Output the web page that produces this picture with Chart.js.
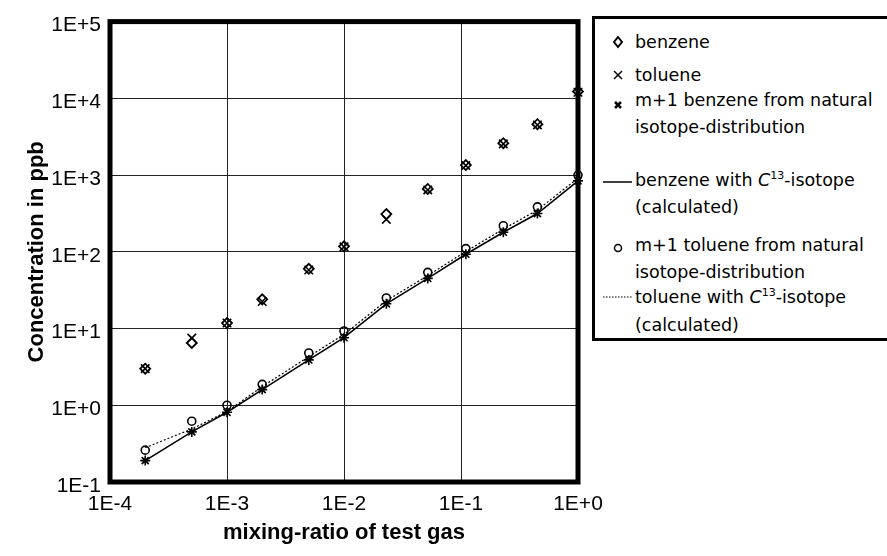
<!DOCTYPE html>
<html>
<head>
<meta charset="utf-8">
<script src="https://cdn.jsdelivr.net/npm/chart.js@4.4.1/dist/chart.umd.min.js"></script>
<style>
  body { margin: 0; background: #fff; }
  #wrap { position: relative; width: 887px; height: 556px; overflow: hidden; }
  #legend { position: absolute; left: 592px; top: 16px; width: 310px; height: 319px;
            border: 3px solid #000; background: #fff; font-family: "DejaVu Sans"; font-size: 17.5px; color: #000; }
  .t { position: absolute; left: 40px; white-space: nowrap; line-height: 20px; }
  .t sup { font-size: 11px; line-height: 0; }
  .s { position: absolute; left: 8px; }
</style>
</head>
<body>
<div id="wrap">
  <canvas id="c" width="887" height="556"></canvas>
  <div id="legend">
    <svg class="s" style="top:13px" width="30" height="20"><path d="M15 5 L19 10 L15 15 L11 10 Z" fill="none" stroke="#000" stroke-width="2"/></svg>
    <div class="t" style="top:13px">benzene</div>
    <svg class="s" style="top:46px" width="30" height="20"><path d="M11 6 L19 14 M19 6 L11 14" stroke="#000" stroke-width="1.5"/></svg>
    <div class="t" style="top:46px">toluene</div>
    <svg class="s" style="top:76px" width="30" height="20"><path d="M12 7 L18 13 M18 7 L12 13" stroke="#000" stroke-width="2.5"/></svg>
    <div class="t" style="top:71px">m+1 benzene from natural</div>
    <div class="t" style="top:98px">isotope-distribution</div>
    <svg class="s" style="top:153px" width="30" height="20"><path d="M0 10 L29 10" stroke="#000" stroke-width="1.5"/></svg>
    <div class="t" style="top:151px">benzene with <i>C</i><sup>13</sup>-isotope</div>
    <div class="t" style="top:178px">(calculated)</div>
    <svg class="s" style="top:219px" width="30" height="20"><circle cx="15" cy="10" r="3.5" fill="none" stroke="#000" stroke-width="1.5"/></svg>
    <div class="t" style="top:216px">m+1 toluene from natural</div>
    <div class="t" style="top:243px">isotope-distribution</div>
    <svg class="s" style="top:268px" width="30" height="20"><path d="M0 10 L29 10" stroke="#000" stroke-width="1" stroke-dasharray="1.5 1.5"/></svg>
    <div class="t" style="top:268px">toluene with <i>C</i><sup>13</sup>-isotope</div>
    <div class="t" style="top:296px">(calculated)</div>
  </div>
</div>
<script>
// mixing ratio of test gas
const mixingRatio = [2e-4, 5e-4, 1e-3, 2e-3, 5e-3, 1e-2, 2.3e-2, 5.2e-2, 0.11, 0.23, 0.45, 1.0];

// measured concentrations (ppb)
const benzene = [3.0, 6.5, 11.8, 24, 60, 118, 310, 660, 1350, 2600, 4600, 12300];
const toluene = [3.0, 7.5, 11.8, 22.5, 58, 116, 265, 640, 1330, 2550, 4500, 12000];
const m1Benzene = [0.19, 0.45, 0.81, 1.6, 3.9, 7.6, 21, 45, 93, 180, 315, 840];
const m1Toluene = [0.26, 0.62, 1.0, 1.87, 4.8, 9.3, 25, 54, 110, 219, 385, 1000];

// calculated C13 curves
const benzeneCalc = [0.19, 0.45, 0.81, 1.6, 3.9, 7.6, 21, 45, 93, 180, 315, 840];
const tolueneCalc = [0.28, 0.49, 0.83, 1.75, 4.3, 8.4, 23, 49, 101, 198, 350, 910];

const xTicks = [1e-4, 1e-3, 1e-2, 1e-1, 1];
const yTicks = [1e-1, 1, 1e1, 1e2, 1e3, 1e4, 1e5];

function pts(arr) {
  return mixingRatio.map((x, i) => ({ x: x, y: arr[i] }));
}
function fmt(v) {
  const e = Math.round(Math.log10(v));
  return '1E' + (e >= 0 ? '+' : '') + e;
}

// thick black frame round the plot area
const frame = {
  id: 'frame',
  beforeDatasetsDraw(chart) {
    const a = chart.chartArea, ctx = chart.ctx;
    ctx.save();
    ctx.strokeStyle = '#000';
    ctx.lineWidth = 5;
    ctx.strokeRect(a.left, a.top, a.right - a.left, a.bottom - a.top);
    ctx.restore();
  }
};

const tickFont = { family: '"Liberation Sans", Arial', size: 21 };
const titleFont = { family: '"Liberation Sans", Arial', size: 22, weight: 'bold' };

new Chart(document.getElementById('c'), {
  type: 'scatter',
  data: {
    datasets: [
      { label: 'benzene with C13-isotope (calculated)', data: pts(benzeneCalc), showLine: true,
        borderColor: '#000', borderWidth: 1.6, pointRadius: 0, clip: false },
      { label: 'toluene with C13-isotope (calculated)', data: pts(tolueneCalc), showLine: true,
        borderColor: '#000', borderWidth: 1.2, borderDash: [2, 2], pointRadius: 0, clip: false },
      { label: 'benzene', data: pts(benzene), pointStyle: 'rectRot', pointRadius: 5,
        borderColor: '#000', backgroundColor: 'rgba(0,0,0,0)', pointBorderWidth: 1.8, clip: false },
      { label: 'toluene', data: pts(toluene), pointStyle: 'crossRot', pointRadius: 6,
        borderColor: '#000', pointBorderWidth: 1.6, clip: false },
      { label: 'm+1 benzene from natural isotope-distribution', data: pts(m1Benzene), pointStyle: 'star', pointRadius: 5,
        borderColor: '#000', pointBorderWidth: 1.6, clip: false },
      { label: 'm+1 toluene from natural isotope-distribution', data: pts(m1Toluene), pointStyle: 'circle', pointRadius: 4,
        borderColor: '#000', backgroundColor: 'rgba(0,0,0,0)', pointBorderWidth: 1.6, clip: false }
    ]
  },
  options: {
    responsive: false,
    animation: false,
    layout: { padding: { top: 17, right: 309, left: 0, bottom: 0 } },
    plugins: { legend: { display: false }, tooltip: { enabled: false } },
    scales: {
      x: {
        type: 'logarithmic', min: 1e-4, max: 1,
        afterBuildTicks: s => { s.ticks = xTicks.map(v => ({ value: v })); },
        afterFit: s => { s.height = 74; },
        grid: { color: '#222', lineWidth: 1, drawTicks: false },
        border: { display: false },
        ticks: { color: '#000', font: tickFont, padding: 10, maxRotation: 0, callback: v => fmt(v) },
        title: { display: true, text: 'mixing-ratio of test gas', color: '#000', font: titleFont, padding: { bottom: 10 } }
      },
      y: {
        type: 'logarithmic', min: 1e-1, max: 1e5,
        afterBuildTicks: s => { s.ticks = yTicks.map(v => ({ value: v })); },
        afterFit: s => { s.width = 110; },
        grid: { color: '#222', lineWidth: 1, drawTicks: false },
        border: { display: false },
        ticks: { color: '#000', font: tickFont, padding: 9, labelOffset: 4, callback: v => fmt(v) },
        title: { display: true, text: 'Concentration in ppb', color: '#000', font: titleFont, padding: { top: 24 } }
      }
    }
  },
  plugins: [frame]
});
</script>
</body>
</html>
